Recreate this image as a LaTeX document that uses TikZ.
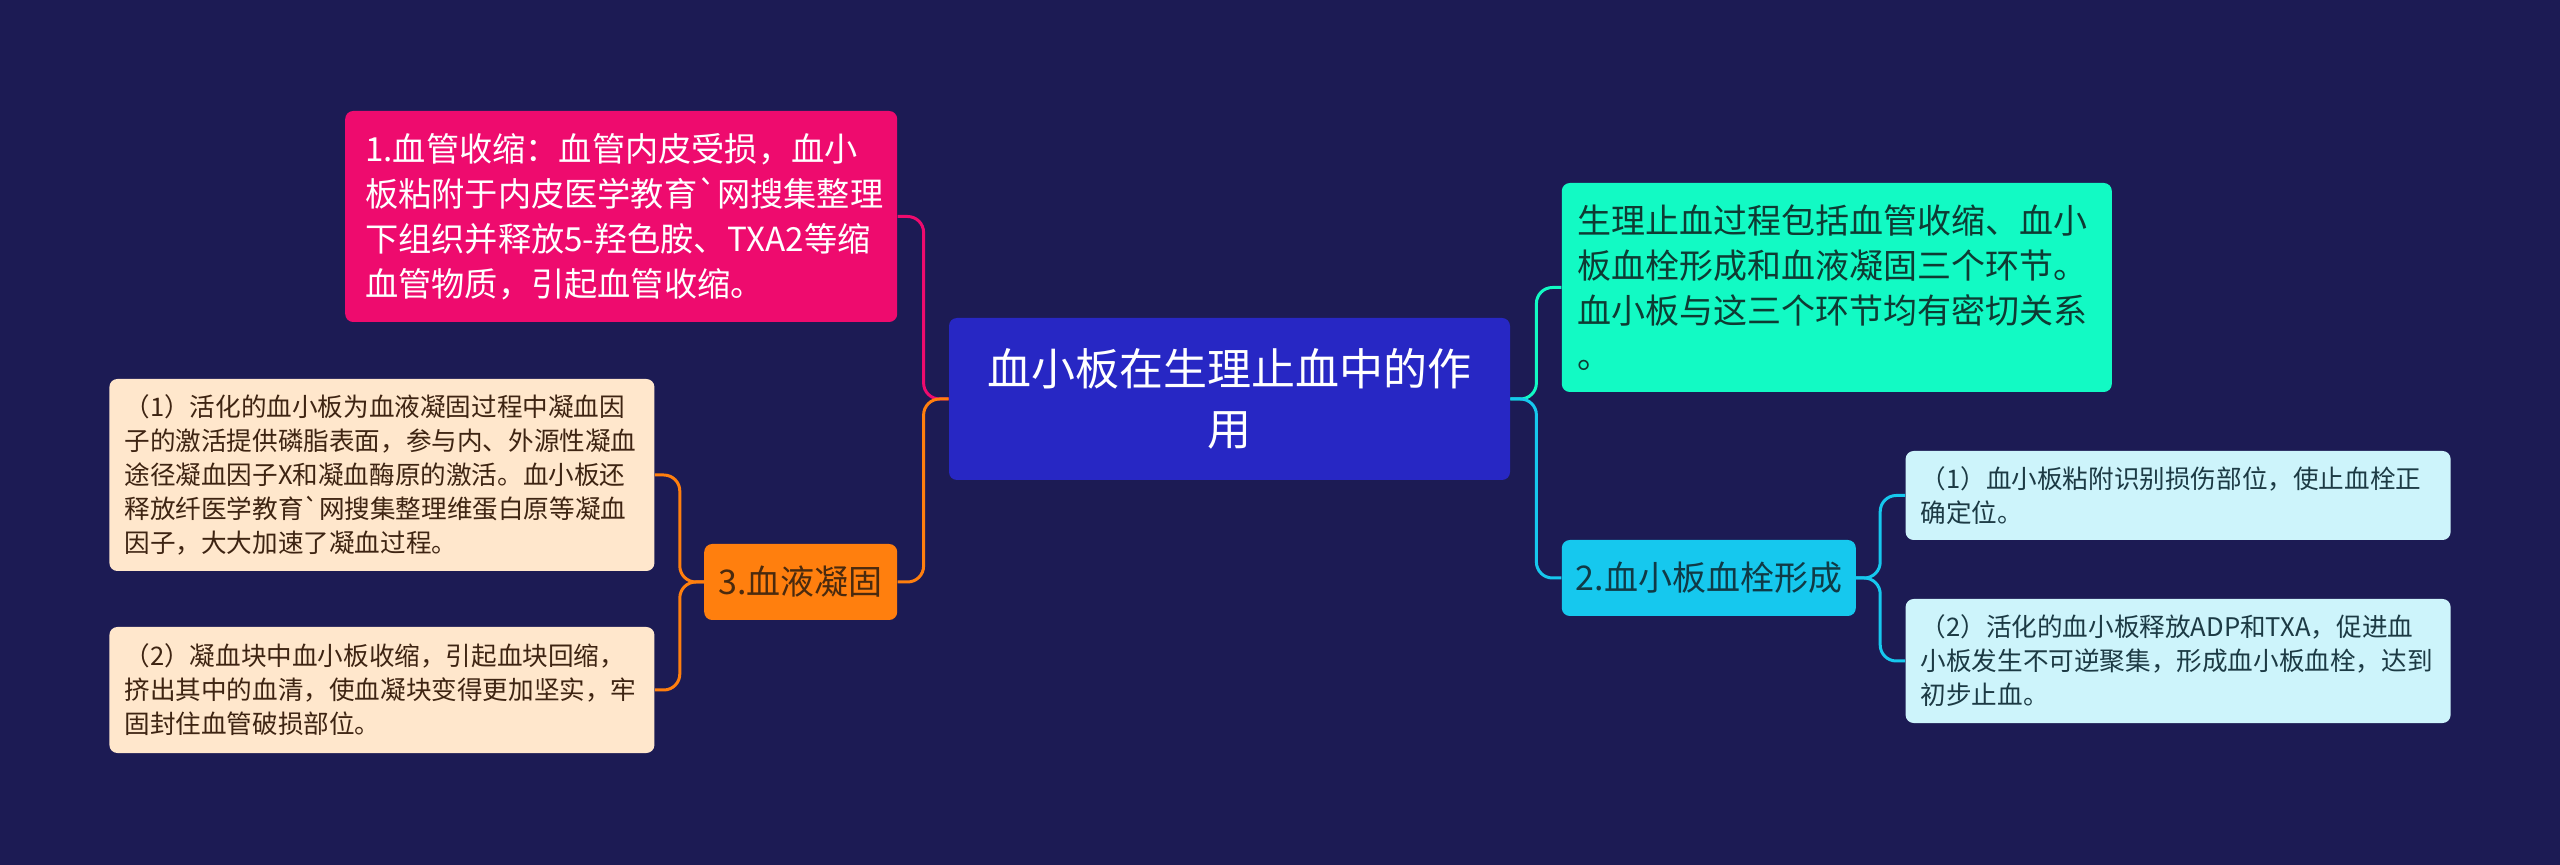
\documentclass[tikz,border=0pt]{standalone}
\usepackage{fontspec}
\usepackage{xcolor}
\usepackage{tikz}
\usetikzlibrary{positioning}
\newfontfamily\cjk{Noto Sans CJK SC}
\newcommand{\gravemark}{\symbol{96}}
\definecolor{bgnavy}{HTML}{1C1B54}
\definecolor{hubblue}{HTML}{2727C4}
\definecolor{vasopink}{HTML}{EE0B6E}
\definecolor{sumteal}{HTML}{12FAC4}
\definecolor{sumtext}{HTML}{0E3B33}
\definecolor{plugcyan}{HTML}{16C8EE}
\definecolor{plugtext}{HTML}{103A46}
\definecolor{plugleaf}{HTML}{CDF4FB}
\definecolor{plugleaftext}{HTML}{1C3A44}
\definecolor{coagorange}{HTML}{FF7F0E}
\definecolor{coagtext}{HTML}{4A2A0E}
\definecolor{coagleaf}{HTML}{FFE7CC}
\definecolor{coagleaftext}{HTML}{3E2412}

\begin{document}
\begin{tikzpicture}[x=0.5pt, y=-0.5pt, every node/.style={align=left, font=\cjk}]
\tikzset{
  card/.style={rounded corners=4pt, inner ysep=0pt},
  hubbox/.style={card, fill=hubblue, text=white, align=center, text width=264pt, inner xsep=8.25pt, minimum height=81pt, font=\cjk\fontsize{22}{30}\selectfont},
  topic/.style={card, inner xsep=8pt, font=\cjk\fontsize{17}{22.5}\selectfont},
  leaf/.style={card, inner xsep=7.5pt, text width=257.5pt, font=\cjk\fontsize{12.8}{17}\selectfont},
  link/.style={line width=1.5pt, rounded corners=8pt}
}
\fill[bgnavy] (0,0) rectangle (2560,865);
\useasboundingbox (0,0) rectangle (2560,865);
\node[hubbox] (hub) at (1229.5,399) {血小板在生理止血中的作\\用};
\node[topic, fill=vasopink, text=white, inner xsep=10pt, text width=256pt, minimum height=105.5pt, font=\cjk\fontsize{16.6}{22.5}\selectfont, left=25.5pt of hub.west, yshift=91.25pt] (vaso) {1.血管收缩：血管内皮受损，血小\\板粘附于内皮医学教育\gravemark 网搜集整理\\\mbox{下组织并释放5-羟色胺、TXA2等缩}\\血管物质，引起血管收缩。};
\node[topic, fill=coagorange, text=coagtext, align=center, inner xsep=7pt, text width=82.5pt, minimum height=38pt, left=25.5pt of hub.west, yshift=-91.5pt] (coag) {3.血液凝固};
\node[topic, fill=sumteal, text=sumtext, text width=259pt, minimum height=104.5pt, right=25.5pt of hub.east, yshift=55.75pt] (summary) {生理止血过程包括血管收缩、血小\\板血栓形成和血液凝固三个环节。\\血小板与这三个环节均有密切关系\\。};
\node[topic, fill=plugcyan, text=plugtext, align=center, inner xsep=7pt, text width=133pt, minimum height=38pt, right=25.5pt of hub.east, yshift=-89.5pt] (plug) {2.血小板血栓形成};
\node[leaf, fill=plugleaf, text=plugleaftext, minimum height=44.5pt, right=24.5pt of plug.east, yshift=41.25pt] (adhere) {（1）血小板粘附识别损伤部位，使止血栓正\\确定位。};
\node[leaf, fill=plugleaf, text=plugleaftext, minimum height=62pt, right=24.5pt of plug.east, yshift=-41.5pt] (aggregate) {（2）活化的血小板释放ADP和TXA，促进血\\小板发生不可逆聚集，形成血小板血栓，达到\\初步止血。};
\node[leaf, fill=coagleaf, text=coagleaftext, minimum height=96pt, left=24.5pt of coag.west, yshift=53.5pt] (procoag) {（1）活化的血小板为血液凝固过程中凝血因\\子的激活提供磷脂表面，参与内、外源性凝血\\途径凝血因子X和凝血酶原的激活。血小板还\\释放纤医学教育\gravemark 网搜集整理维蛋白原等凝血\\因子，大大加速了凝血过程。};
\node[leaf, fill=coagleaf, text=coagleaftext, minimum height=63pt, left=24.5pt of coag.west, yshift=-54pt] (retract) {（2）凝血块中血小板收缩，引起血块回缩，\\挤出其中的血清，使血凝块变得更加坚实，牢\\固封住血管破损部位。};
\draw[link, draw=vasopink] (hub.west) -- ++(-12.5pt,0) |- (vaso.east);
\draw[link, draw=coagorange] (hub.west) -- ++(-12.5pt,0) |- (coag.east);
\draw[link, draw=sumteal] (hub.east) -- ++(13pt,0) |- (summary.west);
\draw[link, draw=plugcyan] (hub.east) -- ++(13pt,0) |- (plug.west);
\draw[link, draw=plugcyan] (plug.east) -- ++(12pt,0) |- (adhere.west);
\draw[link, draw=plugcyan] (plug.east) -- ++(12pt,0) |- (aggregate.west);
\draw[link, draw=coagorange] (coag.west) -- ++(-12pt,0) |- (procoag.east);
\draw[link, draw=coagorange] (coag.west) -- ++(-12pt,0) |- (retract.east);
\end{tikzpicture}
\end{document}
